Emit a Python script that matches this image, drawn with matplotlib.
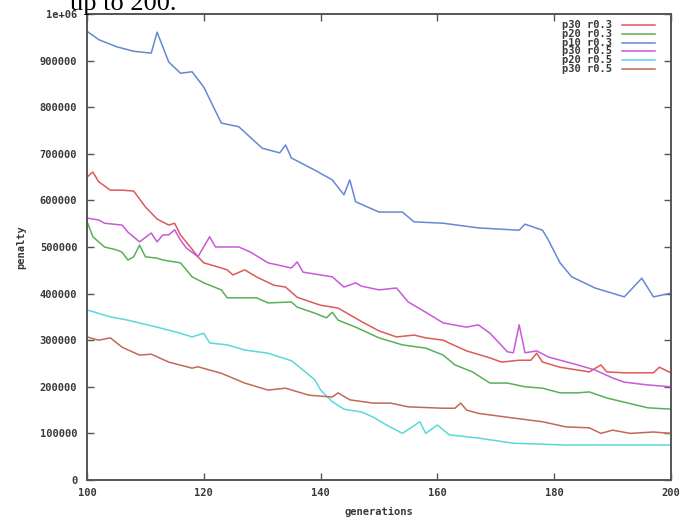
import matplotlib
matplotlib.use("Agg")
import matplotlib.pyplot as plt

# penalty of the best individual per generation, in thousands
gen_p30_r03 = [100, 101, 102, 104, 106, 108, 110, 112, 114, 115, 116, 118, 119, 120, 123, 124, 125, 127,
               129, 132, 134, 136, 140, 143, 147, 150, 153, 156, 158, 161, 162, 165, 169, 171, 174, 176,
               177, 178, 181, 186, 188, 189, 192, 197, 198, 200]
pen_p30_r03 = [650, 661, 640, 622, 622, 620, 586, 560, 547, 551, 526, 495, 479, 466, 455, 451, 440, 451,
               436, 418, 414, 392, 375, 369, 340, 320, 307, 311, 305, 300, 294, 277, 262, 253, 257, 257,
               272, 253, 242, 232, 247, 232, 230, 230, 242, 230]

gen_p20_r03 = [100, 101, 103, 105, 106, 107, 108, 109, 110, 112, 113, 115, 116, 118, 120, 123, 124, 126,
               129, 131, 135, 136, 139, 141, 142, 143, 146, 150, 154, 158, 161, 163, 166, 169, 172, 175,
               178, 181, 184, 186, 189, 192, 196, 200]
pen_p20_r03 = [555, 522, 500, 494, 489, 472, 479, 504, 479, 476, 472, 468, 466, 436, 423, 408, 391, 391,
               391, 380, 382, 371, 358, 348, 360, 343, 328, 305, 290, 283, 268, 247, 232, 208, 208, 200,
               197, 187, 187, 189, 176, 167, 155, 152]

gen_p10_r03 = [100, 102, 105, 108, 111, 112, 114, 116, 118, 120, 123, 126, 130, 133, 134, 135, 139, 142,
               144, 145, 146, 150, 154, 156, 161, 167, 174, 175, 178, 179, 181, 183, 187, 192, 195, 197,
               200]
pen_p10_r03 = [963, 945, 930, 920, 916, 961, 897, 873, 876, 843, 766, 758, 712, 702, 719, 691, 665, 644,
               612, 644, 597, 575, 575, 554, 551, 541, 536, 549, 536, 515, 466, 436, 412, 393, 433, 393,
               401]

gen_p30_r05 = [100, 102, 103, 106, 107, 109, 111, 112, 113, 114, 115, 116, 117, 119, 121, 122, 126, 128,
               131, 135, 136, 137, 142, 144, 146, 147, 150, 153, 155, 158, 161, 165, 167, 169, 172, 173,
               174, 175, 177, 179, 184, 187, 190, 192, 196, 200]
pen_p30_r05 = [562, 558, 551, 547, 532, 511, 530, 511, 526, 526, 537, 515, 498, 479, 522, 500, 500, 489,
               466, 455, 468, 446, 436, 414, 423, 416, 408, 412, 382, 360, 337, 328, 333, 315, 275, 273,
               333, 273, 277, 264, 247, 236, 219, 210, 204, 200]

gen_p20_r05 = [100, 104, 107, 112, 116, 118, 120, 121, 124, 127, 131, 135, 137, 139, 140, 142, 144, 147,
               149, 151, 154, 157, 158, 160, 162, 167, 173, 182, 190, 200]
pen_p20_r05 = [365, 350, 343, 328, 315, 307, 315, 294, 290, 279, 272, 256, 236, 215, 193, 168, 152, 146,
               135, 120, 100, 125, 100, 118, 97, 90, 79, 75, 75, 75]

gen_p30b_r05 = [100, 102, 104, 106, 109, 111, 114, 118, 119, 123, 127, 131, 134, 138, 142, 143, 145, 149,
                152, 155, 161, 163, 164, 165, 167, 173, 178, 182, 186, 188, 190, 193, 197, 200]
pen_p30b_r05 = [307, 300, 305, 285, 268, 270, 253, 240, 243, 229, 208, 193, 197, 182, 178, 187, 172, 165,
                165, 157, 154, 154, 165, 150, 143, 133, 125, 114, 112, 100, 107, 100, 103, 100]

labels = ["p30 r0.3", "p20 r0.3", "p10 r0.3", "p30 r0.5", "p20 r0.5", "p30 r0.5"]
colors = ["#dc5a5a", "#58b058", "#6688d4", "#c85ad8", "#5ad8dc", "#c06a56"]
series = [(gen_p30_r03, pen_p30_r03), (gen_p20_r03, pen_p20_r03), (gen_p10_r03, pen_p10_r03),
          (gen_p30_r05, pen_p30_r05), (gen_p20_r05, pen_p20_r05), (gen_p30b_r05, pen_p30b_r05)]

xticks = [100, 120, 140, 160, 180, 200]
yticks = [0, 100000, 200000, 300000, 400000, 500000, 600000, 700000, 800000, 900000, 1000000]
ytick_labels = ["0", "100000", "200000", "300000", "400000", "500000",
                "600000", "700000", "800000", "900000", "1e+06"]

mono = {"family": "DejaVu Sans Mono", "weight": "bold", "size": 7.5}
ink = "#383838"

fig = plt.figure(figsize=(6.84, 5.23), dpi=100)
ax = fig.add_axes([87 / 684, 43 / 523, 584 / 684, 466 / 523])

for (g, p), c in zip(series, colors):
    ax.plot(g, [v * 1000 for v in p], color=c, lw=1.1)

ax.set_xlim(100, 200)
ax.set_ylim(0, 1000000)
ax.set_xticks(xticks)
ax.set_xticklabels([str(t) for t in xticks], fontdict=mono, color=ink)
ax.set_yticks(yticks)
ax.set_yticklabels(ytick_labels, fontdict=mono, color=ink)
ax.tick_params(direction="in", top=True, right=True, length=5, width=1, color="#555555")
ax.tick_params(axis="x", pad=6)
ax.tick_params(axis="y", pad=7)
for s in ax.spines.values():
    s.set_color("#555555")
    s.set_linewidth(1.4)

ax.set_xlabel("generations", fontdict=mono, color=ink, labelpad=6)
ax.set_ylabel("penalty", fontdict=mono, color=ink, labelpad=10)

# gnuplot style key: label on the left, line sample on the right
for i, (lab, c) in enumerate(zip(labels, colors)):
    yk = (480 - (25 + 8.8 * i)) / 466
    ax.text((612 - 87) / 584, yk, lab, transform=ax.transAxes, ha="right", va="center",
            fontdict=mono, color=ink)
    ax.plot([(622 - 87) / 584, (655 - 87) / 584], [yk, yk], transform=ax.transAxes,
            color=c, lw=1.1)

fig.text(70 / 684, 513 / 523, "up to 200.", family="Liberation Serif", size=19,
         ha="left", va="baseline", color="black")

fig.savefig("out.png", dpi=100)
